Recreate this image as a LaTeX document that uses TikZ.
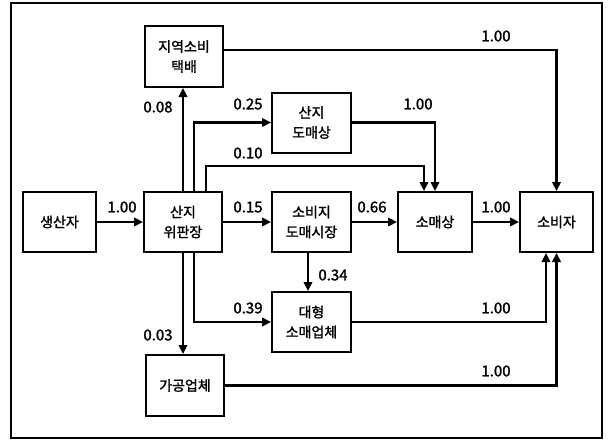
\documentclass[tikz,border=0pt]{standalone}
\usepackage{fontspec}
\setmainfont{Noto Sans CJK KR}[FakeBold=1.6]
\usetikzlibrary{arrows.meta}
\begin{document}
\begin{tikzpicture}[x=1pt,y=-1pt,
  box/.style={draw,line width=2pt,minimum width=78pt,minimum height=60pt,inner sep=0pt,align=center,font=\fontsize{14}{20}\selectfont},
  flow/.style={line width=2.2pt,-{Triangle[length=9pt,width=8.5pt]}},
  num/.style={font=\fontsize{15}{18}\selectfont,inner sep=0pt}]
\useasboundingbox (0,0) rectangle (612,440);
\draw[line width=2pt] (11,3) rectangle (602,438);
% boxes
\node[box,minimum width=73pt] (prod) at (59.5,222) {생산자};
\node[box] (auc) at (183,222) {산지\\위판장};
\node[box,minimum width=79pt] (wh) at (311.5,122.5) {산지\\도매상};
\node[box,minimum height=61pt] (local) at (184,56.5) {지역소비\\택배};
\node[box,minimum width=79pt] (cwm) at (311.5,222) {소비지\\도매시장};
\node[box,minimum width=74pt] (ret) at (435,222) {소매상};
\node[box,minimum width=73pt] (con) at (556.5,222) {소비자};
\node[box,minimum width=79pt] (big) at (311.5,322) {대형\\소매업체};
\node[box,minimum height=61pt] (proc) at (185,385.5) {가공업체};
% connectors
\draw[flow] (prod.east) -- (auc.west);
\draw[flow] (auc.east) -- (cwm.west);
\draw[flow] (cwm.east) -- (ret.west);
\draw[flow] (ret.east) -- (con.west);
\draw[flow] (auc.north) -- (auc.north |- local.south);
\draw[flow] ([xshift=11pt]auc.north) |- (wh.west);
\draw[flow] ([xshift=23pt]auc.north) -- ++(0,-25) -| ([xshift=-11pt]ret.north);
\draw[flow] (wh.east) -| (ret.north);
\draw[flow] ([yshift=6.5pt]local.east) -| (con.north);
\draw[flow] (auc.south) -- (auc.south |- proc.north);
\draw[flow] ([xshift=11pt]auc.south) |- (big.west);
\draw[flow] ([xshift=-3.5pt]cwm.south) -- ([xshift=-3.5pt]big.north);
\draw[flow] (big.east) -| ([xshift=-10.5pt]con.south);
\draw[flow] (proc.east) -| (con.south);
% labels
\node[num] (l1) at (122,207) {1.00};
\node[num] (l2) at (248,207) {0.15};
\node[num] (l3) at (372,207) {0.66};
\node[num] (l4) at (496,207) {1.00};
\node[num] (l5) at (158,107) {0.08};
\node[num] (l6) at (248,104) {0.25};
\node[num] (l7) at (248,153) {0.10};
\node[num] (l8) at (418,104) {1.00};
\node[num] (l9) at (496,36) {1.00};
\node[num] (l10) at (333,275) {0.34};
\node[num] (l11) at (248,308) {0.39};
\node[num] (l12) at (158,335) {0.03};
\node[num] (l13) at (496,308) {1.00};
\node[num] (l14) at (496,371) {1.00};
\end{tikzpicture}
\end{document}
